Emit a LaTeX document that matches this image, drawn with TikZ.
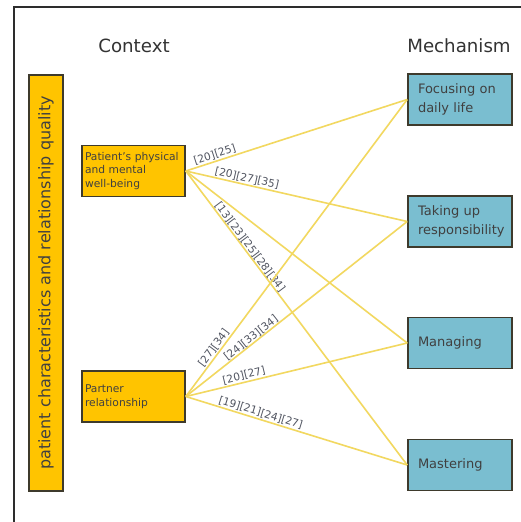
\documentclass[tikz,border=0pt]{standalone}
\usepackage{fontspec}
\setmainfont{DejaVu Sans}
\definecolor{ctxyellow}{RGB}{255,196,0}
\definecolor{mechblue}{RGB}{122,190,208}
\definecolor{boxedge}{RGB}{62,58,44}
\definecolor{linkyellow}{RGB}{242,216,96}
\definecolor{labelgrey}{RGB}{80,84,96}
\definecolor{framegrey}{RGB}{45,45,45}
\tikzset{
  ctxbox/.style={draw=boxedge, line width=1.6pt, fill=ctxyellow, minimum width=103pt,
    minimum height=51pt, text width=97pt, inner xsep=3pt, align=left,
    font=\fontsize{10.7}{13.5}\selectfont, text=black!75},
  mechbox/.style={draw=boxedge, line width=1.6pt, fill=mechblue, minimum width=104pt,
    minimum height=51pt, text width=84pt, inner xsep=10pt, align=left,
    font=\fontsize{13}{19.5}\selectfont, text=black!75},
  heading/.style={font=\fontsize{18.2}{20}\selectfont, text=black!80},
  link/.style={draw=linkyellow, line width=1.6pt},
  lab/.style={font=\fontsize{10.6}{11}\selectfont, text=labelgrey, inner sep=1pt, sloped}
}
\begin{document}
\begin{tikzpicture}[x=1pt,y=-1pt]
\useasboundingbox (0,0) rectangle (521,522);
\clip (0,0) rectangle (521,522);
\fill[white] (0,0) rectangle (521,522);
% outer frame, running off the right and bottom edges
\draw[framegrey, line width=2pt] (13.5,6.5) rectangle (540,540);

% headings
\node[heading] (hctx) at (134,46) {Context};
\node[heading] (hmech) at (459,46) {Mechanism};

% vertical context bar
\node[draw=boxedge, line width=1.6pt, fill=ctxyellow, rotate=90, minimum width=416pt,
  minimum height=34pt, font=\fontsize{16}{18}\selectfont, text=black!75]
  (bar) at (46,283) {patient characteristics and relationship quality};

% context boxes
\node[ctxbox] (pat) at (133.5,171) {Patient's physical\\and mental\\well-being};
\node[ctxbox] (par) at (133.5,396.5) {Partner\\relationship};

% mechanism boxes
\node[mechbox] (foc) at (460,99.5) {Focusing on\\daily life};
\node[mechbox] (tak) at (460,221.5) {Taking up\\responsibility};
\node[mechbox] (man) at (460,343) {Managing};
\node[mechbox] (mas) at (460,465) {Mastering};

% links from patient well-being
\draw[link] (pat.east) -- node[lab, pos=0.14, above]{[20][25]} (foc.west);
\draw[link] (pat.east) -- node[lab, pos=0.27, above]{[20][27][35]} (tak.west);
\draw[link] (pat.east) -- (man.west);
\draw[link] (pat.east) -- node[lab, pos=0.27, above=-1pt]{[13][23][25][28][34]} (mas.west);

% links from partner relationship
\draw[link] (par.east) -- node[lab, pos=0.15, above]{[27][34]} (foc.west);
\draw[link] (par.east) -- node[lab, pos=0.31, above=-1pt]{[24][33][34]} (tak.west);
\draw[link] (par.east) -- node[lab, pos=0.27, above]{[20][27]} (man.west);
\draw[link] (par.east) -- node[lab, pos=0.33, above]{[19][21][24][27]} (mas.west);
\end{tikzpicture}
\end{document}
